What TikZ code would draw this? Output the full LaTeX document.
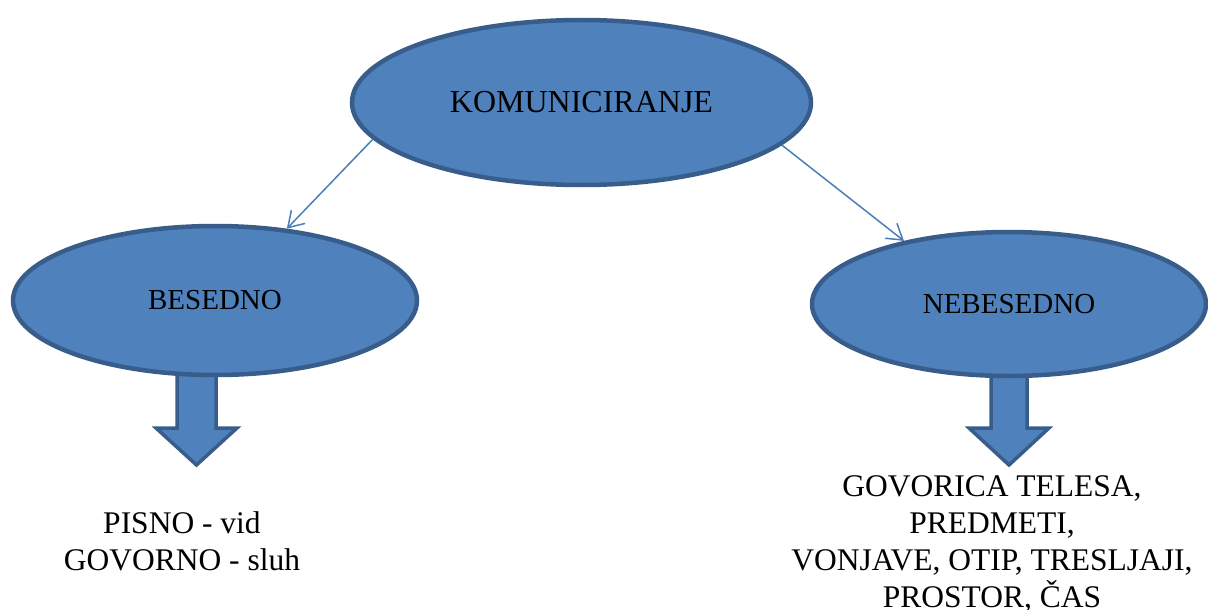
\documentclass[tikz,border=0pt]{standalone}
\usepackage{fontspec}
\setmainfont{Liberation Serif}
\usetikzlibrary{shapes.geometric,arrows.meta}
\definecolor{ovalfill}{HTML}{4F81BD}
\definecolor{ovalrim}{HTML}{385D8A}
\definecolor{linkblue}{HTML}{4A7EBB}
\begin{document}
\begin{tikzpicture}[x=1pt,y=-1pt,
  oval/.style={ellipse, draw=ovalrim, fill=ovalfill, line width=4.5pt,
    inner sep=0pt, text=black},
  bigoval/.style={oval, minimum width=459pt, minimum height=165pt,
    font=\fontsize{32}{36}\selectfont},
  sideoval/.style={oval, font=\fontsize{29}{34}\selectfont},
  blockarrow/.style={draw=ovalrim, fill=ovalfill, line width=3.5pt},
  link/.style={draw=linkblue, line width=1.5pt,
    -{Straight Barb[length=15pt,width=19pt,line width=1.5pt]}},
  listtext/.style={align=center, inner sep=0pt, anchor=base,
    font=\fontsize{31.5}{37}\selectfont}]
\useasboundingbox (0,0) rectangle (1208,610);

% wide block arrows below the two branches (drawn first, ovals cover their tops)
\draw[blockarrow] (177,360) -- (216,360) -- (216,428) -- (237,428) -- (196.5,465)
  -- (156,428) -- (177,428) -- cycle;
\draw[blockarrow] (991,360) -- (1027,360) -- (1027,428) -- (1049,428) -- (1009,465)
  -- (969,428) -- (991,428) -- cycle;

% ovals
\node[bigoval] (komun) at (581.5,102.5) {KOMUNICIRANJE};
\node[sideoval, minimum width=404pt, minimum height=149pt] (besedno) at (215,300.5)
  {\raisebox{-4pt}{BESEDNO}};
\node[sideoval, minimum width=394pt, minimum height=144pt] (nebesedno) at (1009,304)
  {\raisebox{-2pt}{NEBESEDNO}};

% thin arrows from the main oval to the branches
\draw[link] (komun.190.3) -- (besedno.45);
\draw[link] (komun.348.9) -- (nebesedno.149.7);

% lists under the block arrows (base anchor sits on the last line)
\node[listtext] (besedlist) at (182,570) {PISNO - vid\\GOVORNO - sluh};
\node[listtext] (nebeslist) at (992,607)
  {GOVORICA TELESA,\\PREDMETI,\\VONJAVE, OTIP, TRESLJAJI,\\PROSTOR, ČAS};
\end{tikzpicture}
\end{document}
